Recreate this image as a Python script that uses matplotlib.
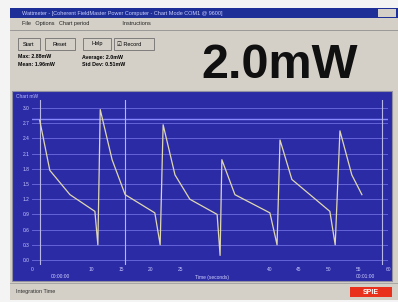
import matplotlib
matplotlib.use("Agg")
import matplotlib.pyplot as plt
from matplotlib.patches import Rectangle

plt.rcParams['font.family'] = ['Liberation Sans', 'DejaVu Sans']

# power trace (time in s, power in chart units)
t_sec = [1.3, 3.0, 6.4, 10.6, 11.1, 11.5, 13.5, 15.7, 20.7, 21.6, 22.1, 24.1,
         26.6, 31.2, 31.7, 32.0, 34.2, 40.1, 41.3, 41.8, 43.8, 50.2, 51.1,
         51.9, 53.9, 55.6]
power = [9.2, 5.9, 4.3, 3.2, 1.0, 9.9, 6.6, 4.3, 3.1, 1.0, 8.9, 5.6,
         4.0, 3.0, 0.3, 6.6, 4.3, 3.1, 1.0, 7.9, 5.3, 3.2, 1.0,
         8.5, 5.6, 4.3]
y_ticks = list(range(0, 11))
y_labels = ['0.0', '0.3', '0.6', '0.9', '1.2', '1.5', '1.8', '2.1', '2.4', '2.7', '3.0']
x_ticks = [0, 10, 15, 20, 25, 40, 45, 50, 55, 60]
ref_level = 9.3
cursors = [1.3, 15.7, 59.0]
reading = "2.0mW"

W, H = 398, 302
fig = plt.figure(figsize=(W / 100, H / 100), dpi=100)
bg = fig.add_axes([0, 0, 1, 1])
bg.set_xlim(0, W)
bg.set_ylim(H, 0)
bg.axis('off')

gray = '#d4d0c8'
blue = '#2b2ba6'

def box(x, y, w, h, fc, ec='none', lw=0.8):
    bg.add_patch(Rectangle((x, y), w, h, facecolor=fc, edgecolor=ec, lw=lw))

box(0, 0, W, H, '#f4f4f4')
box(10, 8, 388, 292, gray)
# title bar
box(10, 8, 388, 10, '#1f2f98')
bg.text(22, 13, "Wattmeter - [Coherent FieldMaster Power Computer - Chart Mode COM1 @ 9600]",
        color='#c8d0ff', fontsize=4, va='center')
box(378, 9, 18, 8, gray)
# menu bar
bg.text(22, 24, "File   Options   Chart period                      Instructions",
        fontsize=4, va='center', color='#202020')
bg.plot([10, 398], [30, 30], color='#909090', lw=0.6)
# buttons
for bx, bw, lab in [(18, 22, "Start"), (45, 30, "Reset"), (83, 28, "Help")]:
    box(bx, 38, bw, 12, gray, '#707070', 0.6)
    bg.text(bx + bw / 2, 44, lab, fontsize=4, ha='center', va='center')
box(114, 38, 40, 12, gray, '#707070', 0.6)
bg.text(117, 44, "\u2611 Record", fontsize=4, va='center')
bg.text(18, 57, "Max: 2.88mW", fontsize=3.8, va='center', fontweight='bold')
bg.text(18, 64, "Mean: 1.96mW", fontsize=3.8, va='center', fontweight='bold')
bg.text(82, 57, "Average: 2.0mW", fontsize=3.8, va='center', fontweight='bold')
bg.text(82, 64, "Std Dev: 0.51mW", fontsize=3.8, va='center', fontweight='bold')
bg.text(280, 66, reading, fontsize=35, fontweight='bold', ha='center', va='center',
        color='#101010')
# chart panel
box(12, 91, 380, 190, blue, '#9090a0', 0.8)
bg.text(16, 96, "Chart mW", fontsize=3.5, color='#c0c0ff', va='center')
bg.text(60, 277, "00:00:00", fontsize=3.5, color='#d0d0ff', ha='center', va='center')
bg.text(212, 277, "Time (seconds)", fontsize=3.5, color='#d0d0ff', ha='center', va='center')
bg.text(365, 277, "00:01:00", fontsize=3.5, color='#d0d0ff', ha='center', va='center')
# status bar
bg.plot([10, 398], [283, 283], color='#a0a0a0', lw=0.6)
bg.text(16, 291, "Integration Time", fontsize=4, va='center', color='#303030')
box(350, 287, 42, 10, '#e8301c')
bg.text(371, 292, "SPIE", fontsize=5, color='white', ha='center', va='center', fontweight='bold')

# plot area
left, right, top, bottom = 32, 388, 100, 265
ax = fig.add_axes([left / W, 1 - bottom / H, (right - left) / W, (bottom - top) / H])
ax.set_facecolor(blue)
ax.set_xlim(0, 60)
ax.set_ylim(-0.33, 10.53)
for s in ax.spines.values():
    s.set_visible(False)
ax.set_yticks(y_ticks)
ax.set_yticklabels(y_labels)
ax.set_xticks(x_ticks)
ax.tick_params(colors='#c8c8ff', labelsize=3.5, length=0, pad=1.5)
ax.grid(axis='y', color='#6464d8', lw=0.7)
ax.axhline(ref_level, color='#8a8aff', lw=1.0)
for c in cursors:
    ax.axvline(c, color='#b8b8e8', lw=0.8)
ax.plot(t_sec, power, color='#e0d8b0', lw=0.9)

fig.savefig("out.png", dpi=100)
